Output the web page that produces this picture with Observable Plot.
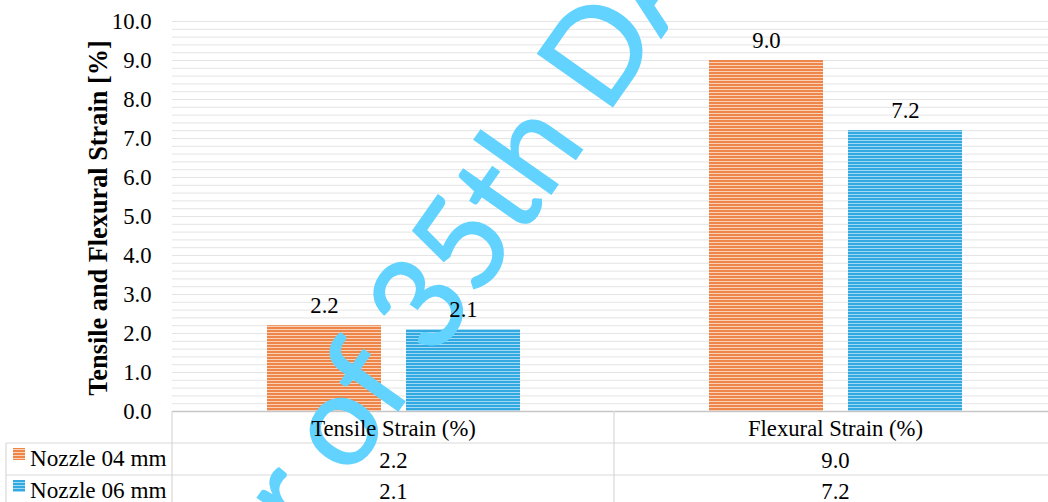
<!DOCTYPE html>
<html><head><meta charset="utf-8">
<script src="https://cdn.jsdelivr.net/npm/d3@7"></script>
<script src="https://cdn.jsdelivr.net/npm/@observablehq/plot@0.6"></script>
<style>
html,body{margin:0;padding:0;background:#fff;overflow:hidden;}
#chart{width:1048px;height:502px;overflow:hidden;position:relative;background:#fff;}
#chart svg{max-width:none !important;}
</style></head><body><div id="chart"></div>
<script>
// ---- data ----
const categories = ["Tensile Strain (%)", "Flexural Strain (%)"];
const seriesNames = ["Nozzle 04 mm", "Nozzle 06 mm"];
const nozzle04 = [2.2, 9.0];
const nozzle06 = [2.1, 7.2];
const yTicks = [0, 1, 2, 3, 4, 5, 6, 7, 8, 9, 10];
const yTitle = "Tensile and Flexural Strain [%]";
const watermarkText = "Paper of 35th DAAAM International Symposium";

const data = categories.flatMap((c, i) => [
  {category: c, series: seriesNames[0], value: nozzle04[i]},
  {category: c, series: seriesNames[1], value: nozzle06[i]}
]);

const FONT = "'Liberation Serif','Times New Roman',serif";
const FS = 22.7;
const W = 1056, H = 502;
const fmt = d => d.toFixed(1);

const plot = Plot.plot({
  width: W, height: H,
  marginLeft: 172, marginRight: 0, marginTop: 21, marginBottom: 91,
  style: {fontFamily: FONT, fontSize: FS + "px", color: "#000", background: "#fff"},
  fx: {domain: categories, padding: 0, axis: null},
  x: {domain: seriesNames, paddingInner: 0.18, paddingOuter: 0.67, axis: null},
  y: {domain: [0, 10], axis: null},
  color: {domain: seriesNames, range: ["url(#stripeOrange)", "url(#stripeBlue)"]},
  marks: [
    Plot.gridY({ticks: 50, stroke: "#e4e4e4", strokeOpacity: 1}),
    Plot.barY(data, {fx: "category", x: "series", y: "value", fill: "series"}),
    Plot.ruleY([0], {stroke: "#c6c6c6", strokeWidth: 1.6}),
    Plot.text(data, {fx: "category", x: "series", y: "value", text: d => fmt(d.value), dy: -20, fontSize: FS}),
    Plot.axisY(yTicks, {tickSize: 0, tickPadding: 21, tickFormat: fmt, label: null, fontSize: FS}),
    Plot.text(categories, {fx: d => d, text: d => d, frameAnchor: "bottom", lineAnchor: "middle", dy: 17, fontSize: FS}),
    Plot.text(data.filter(d => d.series === seriesNames[0]), {fx: "category", text: d => fmt(d.value), frameAnchor: "bottom", lineAnchor: "middle", dy: 49, fontSize: FS}),
    Plot.text(data.filter(d => d.series === seriesNames[1]), {fx: "category", text: d => fmt(d.value), frameAnchor: "bottom", lineAnchor: "middle", dy: 80, fontSize: FS})
  ]
});
plot.style.maxWidth = "none";
document.getElementById("chart").appendChild(plot);

const svg = d3.select(plot);
const defs = svg.insert("defs", ":first-child");
function stripe(id, base, light) {
  const p = defs.append("pattern").attr("id", id).attr("patternUnits", "userSpaceOnUse")
    .attr("width", 8).attr("height", 3);
  p.append("rect").attr("width", 8).attr("height", 3).attr("fill", base);
  p.append("rect").attr("y", 2).attr("width", 8).attr("height", 1).attr("fill", light);
}
stripe("stripeOrange", "#ef8649", "#fad0b6");
stripe("stripeBlue", "#32a9e0", "#a0d9f3");

const fx = plot.scale("fx");
const y = plot.scale("y");
const y0 = y.apply(0);
const left = fx.apply(categories[0]);
const mid = fx.apply(categories[1]);
const rowH = 32;

// table lines, inserted right after the axis rule
const ruleG = plot.querySelector('g[aria-label="rule"]');
const tableG = document.createElementNS("http://www.w3.org/2000/svg", "g");
ruleG.after(tableG);
const tg = d3.select(tableG).attr("stroke", "#d9d9d9").attr("stroke-width", 1.2);
[y0 + rowH, y0 + 2 * rowH].forEach(yy => tg.append("line").attr("x1", 6).attr("x2", W).attr("y1", yy).attr("y2", yy));
tg.append("line").attr("x1", left).attr("x2", left).attr("y1", y0).attr("y2", H);
tg.append("line").attr("x1", mid).attr("x2", mid).attr("y1", y0).attr("y2", H);
tg.append("line").attr("x1", 6).attr("x2", 6).attr("y1", y0 + rowH).attr("y2", H);

// watermark
const wmG = document.createElementNS("http://www.w3.org/2000/svg", "g");
tableG.after(wmG);
const wm = d3.select(wmG).append("text")
  .attr("transform", "translate(606,116) rotate(-54.8)")
  .attr("text-anchor", "start")
  .attr("font-family", "Lato, 'Open Sans', sans-serif")
  .attr("font-size", 128)
  .attr("fill", "#62d3fe")
  .attr("stroke", "#62d3fe").attr("stroke-width", 1.5)
  .text(watermarkText);
const dIndex = watermarkText.indexOf("D");
const pos = wm.node().getStartPositionOfChar(dIndex);
wm.attr("x", -pos.x);

// legend cells in the data table
const legendG = svg.append("g").attr("font-family", FONT).attr("font-size", 23.2).attr("text-anchor", "start");
seriesNames.forEach((s, i) => {
  const cy = y0 + rowH * (i + 1) + 16;
  legendG.append("rect").attr("x", 13).attr("y", cy - 11).attr("width", 12).attr("height", 12)
    .attr("fill", i === 0 ? "url(#stripeOrange)" : "url(#stripeBlue)");
  legendG.append("text").attr("x", 30).attr("y", cy).attr("dy", "0.32em").text(s);
});

// y-axis title
svg.append("text")
  .attr("transform", `translate(107,218) rotate(-90)`)
  .attr("text-anchor", "middle")
  .attr("font-family", FONT).attr("font-size", 26.3).attr("font-weight", "bold")
  .text(yTitle);
</script>
</body></html>
